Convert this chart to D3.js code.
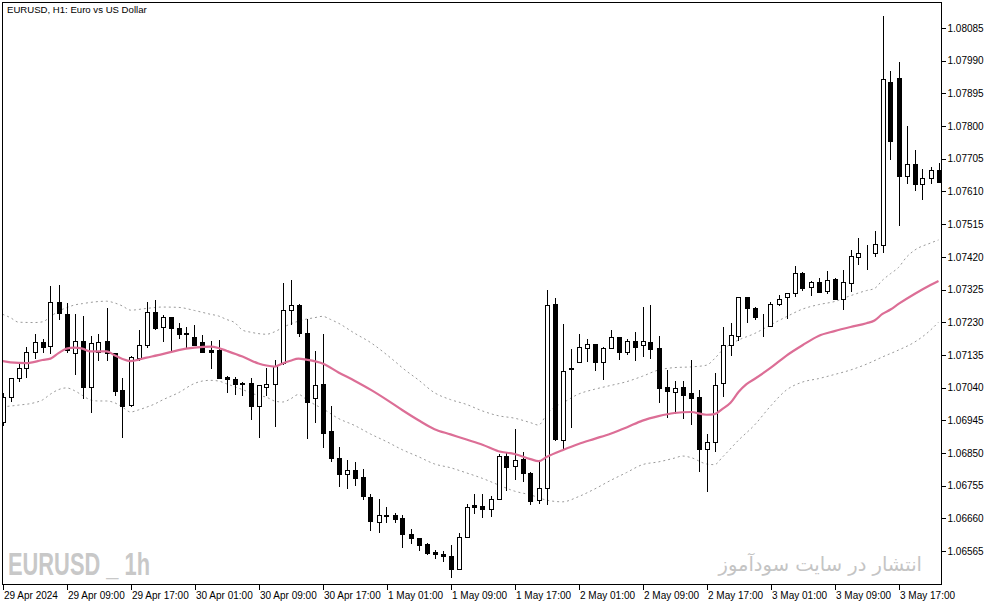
<!DOCTYPE html>
<html><head><meta charset="utf-8">
<script src="https://cdn.jsdelivr.net/npm/d3@7"></script>
<style>
html,body{margin:0;padding:0;background:#fff;}
svg{display:block;}
text{font-family:"Liberation Sans",Arial,sans-serif;}
</style></head>
<body>
<svg id="chart" width="994" height="605"></svg>
<script>
const title = "EURUSD, H1:  Euro vs US Dollar";
const timeLabels = ["29 Apr 2024","29 Apr 09:00","29 Apr 17:00","30 Apr 01:00","30 Apr 09:00","30 Apr 17:00","1 May 01:00","1 May 09:00","1 May 17:00","2 May 01:00","2 May 09:00","2 May 17:00","3 May 01:00","3 May 09:00","3 May 17:00"];
const timeLabelIndex = [0,8,16,24,32,40,48,56,64,72,80,88,96,104,112];
const priceTicks = [1.08085,1.07990,1.07895,1.07800,1.07705,1.07610,1.07515,1.07420,1.07325,1.07230,1.07135,1.07040,1.06945,1.06850,1.06755,1.06660,1.06565];

const open = [1.06940,1.07013,1.07067,1.07096,1.07142,1.07171,1.07160,1.07288,1.07253,1.07139,1.07175,1.07042,1.07144,1.07175,1.07139,1.07033,1.06989,1.07127,1.07165,1.07259,
1.07215,1.07244,1.07212,1.07195,1.07186,1.07171,1.07149,1.07149,1.07070,1.07064,1.07054,1.07052,1.06987,1.07043,1.07049,1.07110,1.07265,1.07280,1.07200,1.07009,
1.07050,1.06914,1.06834,1.06788,1.06800,1.06779,1.06721,1.06648,1.06669,1.06669,1.06660,1.06614,1.06602,1.06584,1.06561,1.06556,1.06551,1.06512,1.06606,1.06699,
1.06696,1.06686,1.06715,1.06841,1.06813,1.06832,1.06791,1.06713,1.06747,1.07283,1.06889,1.07095,1.07115,1.07156,1.07168,1.07113,1.07154,1.07186,1.07144,1.07175,
1.07165,1.07171,1.07154,1.07042,1.07028,1.07041,1.07023,1.07013,1.06861,1.06881,1.07052,1.07165,1.07191,1.07302,1.07270,1.07217,1.07220,1.07282,1.07302,1.07314,
1.07372,1.07331,1.07346,1.07321,1.07355,1.07296,1.07343,1.07420,1.07430,1.07430,1.07453,1.07927,1.07939,1.07655,1.07689,1.07633,1.07648,1.07671];
const high = [1.07024,1.07068,1.07110,1.07159,1.07197,1.07181,1.07335,1.07338,1.07285,1.07253,1.07248,1.07190,1.07195,1.07272,1.07140,1.07067,1.07132,1.07207,1.07288,1.07294,
1.07251,1.07244,1.07227,1.07215,1.07222,1.07193,1.07175,1.07178,1.07073,1.07070,1.07056,1.07067,1.07047,1.07096,1.07120,1.07343,1.07352,1.07282,1.07239,1.07146,
1.07195,1.06986,1.06866,1.06829,1.06823,1.06803,1.06730,1.06715,1.06692,1.06674,1.06671,1.06628,1.06602,1.06587,1.06568,1.06566,1.06582,1.06616,1.06703,1.06730,
1.06730,1.06725,1.06846,1.06851,1.06921,1.06852,1.06794,1.06824,1.07325,1.07299,1.07225,1.07152,1.07195,1.07180,1.07168,1.07159,1.07207,1.07186,1.07180,1.07202,
1.07275,1.07280,1.07190,1.07091,1.07059,1.07059,1.07120,1.07033,1.06905,1.07081,1.07215,1.07228,1.07302,1.07302,1.07275,1.07253,1.07289,1.07309,1.07314,1.07393,
1.07375,1.07349,1.07357,1.07379,1.07358,1.07381,1.07440,1.07476,1.07454,1.07495,1.08120,1.07960,1.07985,1.07800,1.07730,1.07674,1.07682,1.07692];
const low = [1.06931,1.07001,1.07059,1.07071,1.07127,1.07144,1.07139,1.07238,1.07142,1.07079,1.07010,1.06970,1.07120,1.07120,1.07018,1.06897,1.06987,1.07120,1.07159,1.07210,
1.07176,1.07146,1.07185,1.07156,1.07163,1.07142,1.07098,1.07067,1.07028,1.07022,1.07018,1.06948,1.06897,1.07018,1.06929,1.07108,1.07224,1.07190,1.06894,1.06941,
1.06868,1.06827,1.06755,1.06749,1.06757,1.06715,1.06626,1.06621,1.06650,1.06650,1.06577,1.06587,1.06568,1.06555,1.06545,1.06537,1.06490,1.06512,1.06606,1.06676,
1.06665,1.06667,1.06715,1.06742,1.06773,1.06769,1.06703,1.06705,1.06703,1.06887,1.06861,1.06926,1.07115,1.07117,1.07091,1.07065,1.07154,1.07123,1.07137,1.07120,
1.07132,1.07125,1.06999,1.06955,1.06965,1.06952,1.06933,1.06798,1.06740,1.06856,1.07016,1.07136,1.07178,1.07231,1.07238,1.07191,1.07220,1.07280,1.07241,1.07307,
1.07325,1.07309,1.07318,1.07315,1.07296,1.07267,1.07321,1.07399,1.07386,1.07423,1.07435,1.07704,1.07512,1.07635,1.07614,1.07588,1.07635,1.07638];
const close = [1.07012,1.07067,1.07096,1.07142,1.07171,1.07159,1.07288,1.07257,1.07149,1.07175,1.07042,1.07170,1.07171,1.07139,1.07031,1.06987,1.07128,1.07165,1.07259,1.07214,
1.07244,1.07212,1.07197,1.07200,1.07165,1.07144,1.07144,1.07068,1.07064,1.07051,1.07051,1.06987,1.07047,1.07050,1.07103,1.07265,1.07280,1.07199,1.06999,1.07047,
1.06909,1.06834,1.06788,1.06800,1.06776,1.06726,1.06653,1.06671,1.06668,1.06657,1.06613,1.06603,1.06582,1.06560,1.06555,1.06551,1.06513,1.06606,1.06692,1.06694,
1.06686,1.06715,1.06841,1.06808,1.06829,1.06791,1.06711,1.06747,1.07280,1.06890,1.07088,1.07096,1.07157,1.07168,1.07115,1.07154,1.07186,1.07144,1.07175,1.07159,
1.07175,1.07152,1.07039,1.07031,1.07038,1.07018,1.07009,1.06861,1.06881,1.07047,1.07165,1.07192,1.07302,1.07270,1.07244,1.07217,1.07283,1.07296,1.07314,1.07372,
1.07330,1.07346,1.07318,1.07354,1.07296,1.07346,1.07423,1.07430,1.07431,1.07456,1.07936,1.07757,1.07655,1.07689,1.07633,1.07648,1.07671,1.07638];

const maIndex = [0,1,3,5,6,7,8,9,10,11,12,13,14,15,16,18,20,22,24,26,27,28,30,32,33,34,35,36,37,38,40,42,44,46,48,50,52,54,56,58,60,62,64,66,67,68,70,72,74,76,78,80,82,84,86,88,89,90,91,92,93,94,96,98,100,102,104,106,108,109,110,111,112,114,116,117];
const maValues = [1.07117,1.07113,1.07111,1.07120,1.07124,1.07140,1.07153,1.07156,1.07153,1.07145,1.07145,1.07145,1.07134,1.07123,1.07117,1.07127,1.07137,1.07149,1.07156,1.07159,1.07155,1.07147,1.07130,1.07110,1.07104,1.07101,1.07110,1.07118,1.07124,1.07121,1.07110,1.07084,1.07060,1.07034,1.07005,1.06974,1.06945,1.06919,1.06904,1.06889,1.06874,1.06855,1.06847,1.06832,1.06826,1.06838,1.06858,1.06876,1.06891,1.06906,1.06924,1.06944,1.06957,1.06966,1.06969,1.06961,1.06963,1.06978,1.06996,1.07027,1.07050,1.07065,1.07097,1.07133,1.07163,1.07190,1.07204,1.07216,1.07227,1.07235,1.07254,1.07267,1.07283,1.07312,1.07338,1.07350];

const upperIndex = [0,1,2,4,5,6,7,8,9,10,12,13,14,15,16,18,20,22,24,26,27,28,29,30,31,33,34,35,36,37,38,39,40,41,42,44,46,48,49,50,52,54,56,58,60,62,64,66,67,68,69,70,72,74,76,78,80,82,84,86,88,89,90,91,92,94,96,98,100,102,104,106,108,109,110,111,112,113,114,116,117];
const upperValues = [1.07253,1.07243,1.07230,1.07229,1.07231,1.07246,1.07262,1.07272,1.07280,1.07284,1.07290,1.07291,1.07286,1.07277,1.07265,1.07270,1.07274,1.07273,1.07264,1.07253,1.07248,1.07238,1.07229,1.07207,1.07201,1.07195,1.07202,1.07214,1.07225,1.07233,1.07239,1.07243,1.07247,1.07238,1.07227,1.07198,1.07171,1.07136,1.07117,1.07097,1.07062,1.07025,1.07005,1.06991,1.06972,1.06958,1.06951,1.06938,1.06931,1.06961,1.06983,1.06995,1.07021,1.07035,1.07046,1.07057,1.07073,1.07091,1.07098,1.07100,1.07105,1.07124,1.07149,1.07166,1.07178,1.07197,1.07222,1.07246,1.07268,1.07281,1.07290,1.07307,1.07322,1.07328,1.07352,1.07371,1.07389,1.07419,1.07439,1.07460,1.07469];

const lowerIndex = [0,2,4,5,6,7,8,9,10,11,12,13,14,15,16,17,18,19,20,22,24,25,26,27,28,30,32,33,34,35,36,37,38,39,40,42,44,46,48,50,52,54,56,58,60,62,64,66,68,70,72,74,76,78,80,82,84,85,86,88,89,90,92,94,96,98,100,102,104,106,108,110,112,114,116,117];
const lowerValues = [1.06984,1.06989,1.06996,1.07004,1.07021,1.07034,1.07039,1.07031,1.07017,1.07004,1.07001,1.07001,1.06996,1.06983,1.06969,1.06975,1.06983,1.06992,1.07004,1.07025,1.07052,1.07059,1.07061,1.07059,1.07051,1.07034,1.07017,1.07012,1.07001,1.06998,1.07007,1.07020,1.07005,1.06991,1.06979,1.06950,1.06930,1.06905,1.06883,1.06859,1.06839,1.06818,1.06807,1.06792,1.06776,1.06757,1.06739,1.06728,1.06713,1.06708,1.06723,1.06745,1.06770,1.06793,1.06816,1.06824,1.06835,1.06841,1.06837,1.06818,1.06816,1.06838,1.06887,1.06931,1.06986,1.07033,1.07056,1.07066,1.07078,1.07091,1.07108,1.07129,1.07149,1.07172,1.07207,1.07230];

const svg = d3.select("#chart");
const L = 3, R = 941, T = 3, B = 584;

const x = d3.scaleLinear().domain([0, open.length - 1]).range([2.5, 2.5 + 8 * (open.length - 1)]);
const y = d3.scaleLinear().domain([priceTicks[priceTicks.length-1], priceTicks[0]]).range([551, 28]);

svg.append("rect").attr("width",994).attr("height",605).attr("fill","#fff");

svg.append("defs").append("clipPath").attr("id","plotclip")
  .append("rect").attr("x",L).attr("y",T).attr("width",R-L).attr("height",B-T);

// watermarks
svg.append("text").attr("x",8).attr("y",575)
  .attr("font-size",31).attr("font-weight","bold").attr("fill","#c8c8c8")
  .attr("textLength",142).attr("lengthAdjust","spacingAndGlyphs")
  .text("EURUSD _ 1h");
svg.append("text").attr("x",922).attr("y",571).attr("text-anchor","end")
  .attr("font-size",19.5).attr("fill","#c4c4c4")
  .style("font-family","'DejaVu Sans','Noto Sans',sans-serif")
  .text("انتشار در سایت سودآموز");

const plot = svg.append("g").attr("clip-path","url(#plotclip)");

// bands
const bandLine = d3.line().x(d=>x(d[0])).y(d=>y(d[1])).curve(d3.curveMonotoneX);
plot.append("path").datum(upperIndex.map((d,i)=>[d,upperValues[i]]))
  .attr("d",bandLine).attr("fill","none").attr("stroke","#9a9a9a").attr("stroke-width",1).attr("stroke-dasharray","2,3");
plot.append("path").datum(lowerIndex.map((d,i)=>[d,lowerValues[i]]))
  .attr("d",bandLine).attr("fill","none").attr("stroke","#9a9a9a").attr("stroke-width",1).attr("stroke-dasharray","2,3");

// candles
const candles = open.map((o,i)=>({i,o,h:high[i],l:low[i],c:close[i]}));
const cg = plot.append("g").attr("shape-rendering","crispEdges");
cg.selectAll("line.wick").data(candles).join("line").attr("class","wick")
  .attr("x1",d=>Math.round(x(d.i))+0.5).attr("x2",d=>Math.round(x(d.i))+0.5)
  .attr("y1",d=>Math.round(y(d.h))).attr("y2",d=>Math.round(y(d.l))+1)
  .attr("stroke","#000").attr("stroke-width",1);
cg.selectAll("rect.body").data(candles).join("rect").attr("class","body")
  .attr("x",d=>Math.round(x(d.i))-1.5)
  .attr("width",4)
  .attr("y",d=>Math.round(y(Math.max(d.o,d.c)))+0.5)
  .attr("height",d=>Math.max(0, Math.round(y(Math.min(d.o,d.c))) - Math.round(y(Math.max(d.o,d.c)))))
  .attr("fill",d=>d.c>=d.o?"#fff":"#000")
  .attr("stroke","#000").attr("stroke-width",1);

// moving average
plot.append("path").datum(maIndex.map((d,i)=>[d,maValues[i]]))
  .attr("d",d3.line().x(d=>x(d[0])).y(d=>y(d[1])).curve(d3.curveMonotoneX))
  .attr("fill","none").attr("stroke","#dc6e96").attr("stroke-width",2.2);

// frame
svg.append("rect").attr("x",L-0.5).attr("y",T-0.5).attr("width",R-L+1).attr("height",B-T+1)
  .attr("fill","none").attr("stroke","#000").attr("stroke-width",1).attr("shape-rendering","crispEdges");

// right axis
const yAxis = svg.append("g").attr("transform",`translate(${R+0.5},0)`)
  .call(d3.axisRight(y).tickValues(priceTicks).tickFormat(d=>d.toFixed(5)).tickSize(4).tickPadding(2));
yAxis.select(".domain").remove();
yAxis.selectAll("line").attr("stroke","#000").attr("shape-rendering","crispEdges");
yAxis.selectAll("text").attr("font-size",10).attr("fill","#000").style("font-family","'Liberation Sans',Arial,sans-serif");

// bottom axis
const xAxis = svg.append("g").attr("transform",`translate(0,${B+0.5})`)
  .call(d3.axisBottom(x).tickValues(timeLabelIndex).tickFormat((d,i)=>timeLabels[i]).tickSize(5).tickPadding(2));
xAxis.select(".domain").remove();
xAxis.selectAll("line").attr("stroke","#000").attr("shape-rendering","crispEdges")
  .attr("transform","translate(0.5,0)");
xAxis.selectAll("text").attr("text-anchor","start").attr("x",1).attr("dy","0.71em")
  .attr("font-size",10).attr("fill","#000").style("font-family","'Liberation Sans',Arial,sans-serif");

// title
svg.append("text").attr("x",7).attr("y",13).attr("font-size",9.6).attr("fill","#000").text(title);
</script>
</body></html>
